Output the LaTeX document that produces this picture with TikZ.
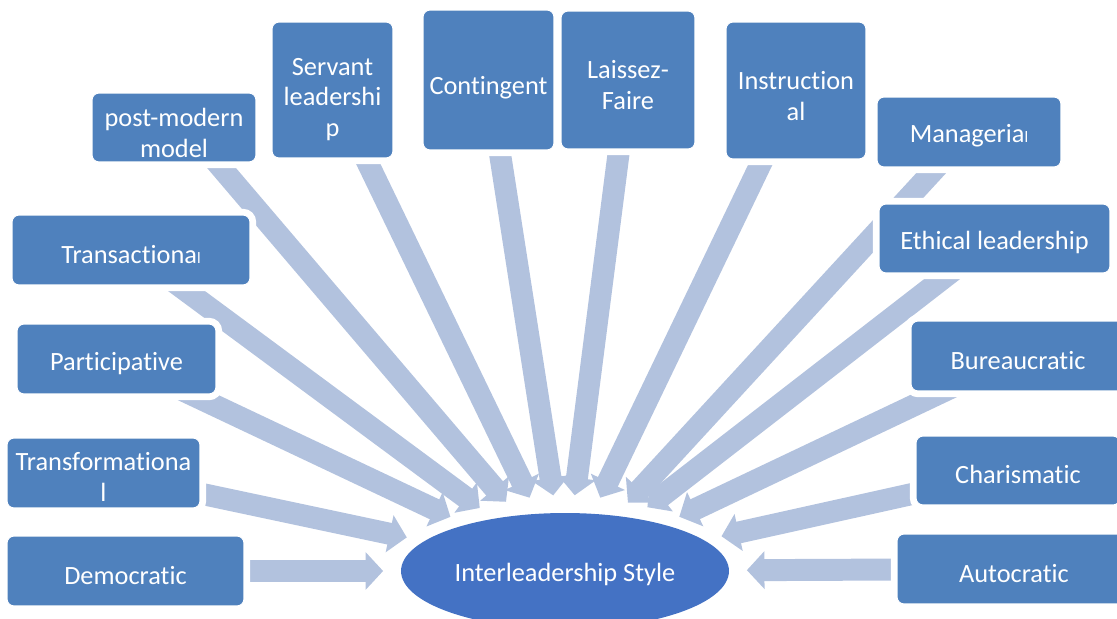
\documentclass[tikz,border=0pt]{standalone}
\usepackage{fontspec}
\setmainfont{Carlito}[Ligatures=NoCommon]
\usetikzlibrary{arrows.meta,shapes.geometric}
\definecolor{boxblue}{RGB}{79,129,189}
\definecolor{hubblue}{RGB}{68,114,196}
\definecolor{arrowblue}{RGB}{178,194,222}
\pgfdeclarelayer{bg}
\pgfsetlayers{bg,main}
\newcommand\lift[1]{\rule{0pt}{#1}}

\begin{document}
\begin{tikzpicture}[x=0.02cm,y=-0.02cm,>={Triangle[width=21pt,length=10pt]}]
		\tikzstyle{style box}=[rectangle, rounded corners=4pt, fill=boxblue, draw=white, line width=0.6pt, text=white, align=center, inner sep=2pt, font=\fontsize{15}{17.5}\selectfont, preaction={draw=white, line width=7pt}, execute at begin node={\lift{15pt}}]
		\tikzstyle{tall}=[execute at begin node={\lift{19pt}}]
		\tikzstyle{hub}=[ellipse, fill=hubblue, text=white, inner sep=0pt, minimum width=6.56cm, minimum height=2.32cm, font=\fontsize{15}{17.5}\selectfont, execute at begin node={\lift{14pt}}]
		\tikzstyle{link}=[->, draw=arrowblue, line width=12.5pt, shorten >=10pt]

		\clip (0,0) rectangle (1117,619);

		\node [hub] (hub) at (565,571) {Interleadership Style};

		\node [style box, minimum width=4.74cm, minimum height=1.4cm] (demo) at (125.5,571) {Democratic};
		\node [style box, minimum width=3.86cm, minimum height=1.4cm] (transf) at (103.5,473) {\lift{15pt}Transformationa\\l};
		\node [style box, minimum width=3.98cm, minimum height=1.4cm] (part) at (116.5,359) {Participative};
		\node [style box, minimum width=4.76cm, minimum height=1.4cm] (trans) at (131,250) {Transactiona{\fontsize{9}{9}\selectfont l}};
		\node [style box, minimum width=3.28cm, minimum height=1.38cm] (pm) at (174,127.5) {\lift{17pt}post-modern\\model};
		\node [style box, tall, minimum width=2.42cm, minimum height=2.72cm] (serv) at (332.5,90) {\lift{20.5pt}Servant\\leadershi\\p};
		\node [style box, tall, minimum width=2.62cm, minimum height=2.8cm] (cont) at (488.5,80) {Contingent};
		\node [style box, tall, minimum width=2.68cm, minimum height=2.76cm] (lf) at (628,80) {\lift{16pt}Laissez-\\Faire};
		\node [style box, tall, minimum width=2.8cm, minimum height=2.74cm] (instr) at (796,90.5) {\lift{17pt}Instruction\\al};
		\node [style box, minimum width=3.68cm, minimum height=1.4cm] (mgr) at (969,132) {Manageria{\fontsize{9}{9}\selectfont l}};
		\node [style box, minimum width=4.62cm, minimum height=1.38cm] (eth) at (994.5,238.5) {Ethical leadership};
		\node [style box, minimum width=4.28cm, minimum height=1.4cm] (bur) at (1018,356) {Bureaucratic};
		\node [style box, minimum width=4.08cm, minimum height=1.38cm] (char) at (1018,470.5) {Charismatic};
		\node [style box, minimum width=4.68cm, minimum height=1.4cm] (auto) at (1014,569) {Autocratic};

		\begin{pgfonlayer}{bg}
		\foreach \s in {demo,transf,part,trans,serv,cont,lf,instr,mgr,eth,bur,char,auto}
			\draw [link] (\s.center) -- (hub);
		\draw [link] ([xshift=0.26cm]pm.center) -- (hub);
		\end{pgfonlayer}
	\end{tikzpicture}
\end{document}
